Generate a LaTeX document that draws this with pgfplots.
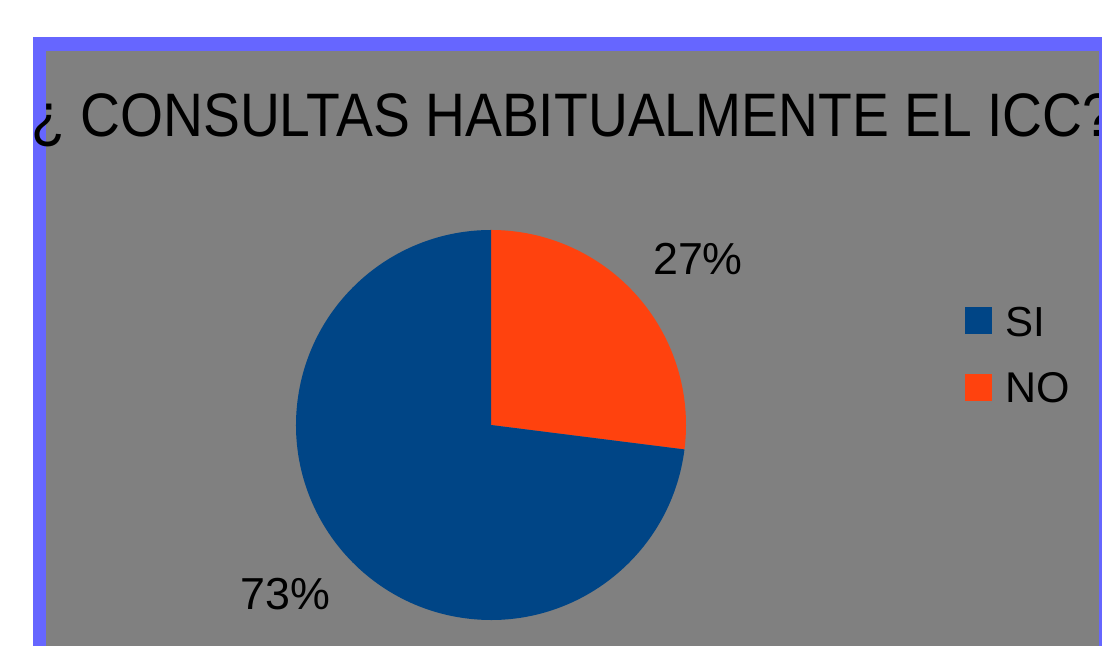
\documentclass[border=0pt]{standalone}
\usepackage{pgfplots}
\pgfplotsset{compat=1.18}
\usepackage{pgfplotstable}
\usepackage{fontspec}
\setmainfont{Liberation Sans}
\definecolor{siblue}{HTML}{004586}
\definecolor{noorange}{HTML}{FF420E}
\definecolor{frameblue}{HTML}{6666FF}
\definecolor{bggray}{HTML}{808080}
\pgfplotstableread{
label value
SI 73
NO 27
}\piedata
\begin{document}
\begin{tikzpicture}
\useasboundingbox (0,0) rectangle (551pt,323pt);
\clip (0,0) rectangle (551pt,323pt);
\pgfplotstablegetelem{0}{value}\of\piedata \let\vsi\pgfplotsretval
\pgfplotstablegetelem{1}{value}\of\piedata \let\vno\pgfplotsretval
\begin{axis}[at={(0,0)}, anchor=south west, scale only axis, width=551pt, height=323pt,
  xmin=0, xmax=1102, ymin=0, ymax=646, hide axis, clip=false]
\fill[white] (axis cs:0,0) rectangle (axis cs:1102,646);
\fill[frameblue] (axis cs:33,0) rectangle (axis cs:1102,609);
\fill[bggray] (axis cs:46,0) rectangle (axis cs:1099,595);
\pgfmathsetmacro\ano{\vno*3.6}
\pgfmathsetmacro\asi{\vsi*3.6}
\fill[noorange] (axis cs:491,221) -- ++(90:97.5pt) arc[start angle=90, delta angle=-\ano, radius=97.5pt] -- cycle;
\fill[siblue] (axis cs:491,221) -- ++(90-\ano:97.5pt) arc[start angle=90-\ano, delta angle=-\asi, radius=97.5pt] -- cycle;
\node[anchor=base west, inner sep=0pt, xscale=0.9, font=\fontsize{30.7}{36}\selectfont] at (axis cs:31,509) {¿ CONSULTAS HABITUALMENTE EL ICC?};
\fill[frameblue] (axis cs:1099,0) rectangle (axis cs:1102,609);
\node[anchor=base, inner sep=0pt, font=\fontsize{22.4}{26}\selectfont] at (axis cs:698,371) {\vno\%};
\node[anchor=base, inner sep=0pt, font=\fontsize{22.4}{26}\selectfont] at (axis cs:285.5,36) {\vsi\%};
\fill[siblue] (axis cs:965,312) rectangle (axis cs:992,339);
\fill[noorange] (axis cs:965,245) rectangle (axis cs:992,272);
\node[anchor=base west, inner sep=0pt, font=\fontsize{21}{25}\selectfont] at (axis cs:1005,309) {SI};
\node[anchor=base west, inner sep=0pt, font=\fontsize{21.5}{25}\selectfont] at (axis cs:1005,243) {NO};
\end{axis}
\end{tikzpicture}
\end{document}
